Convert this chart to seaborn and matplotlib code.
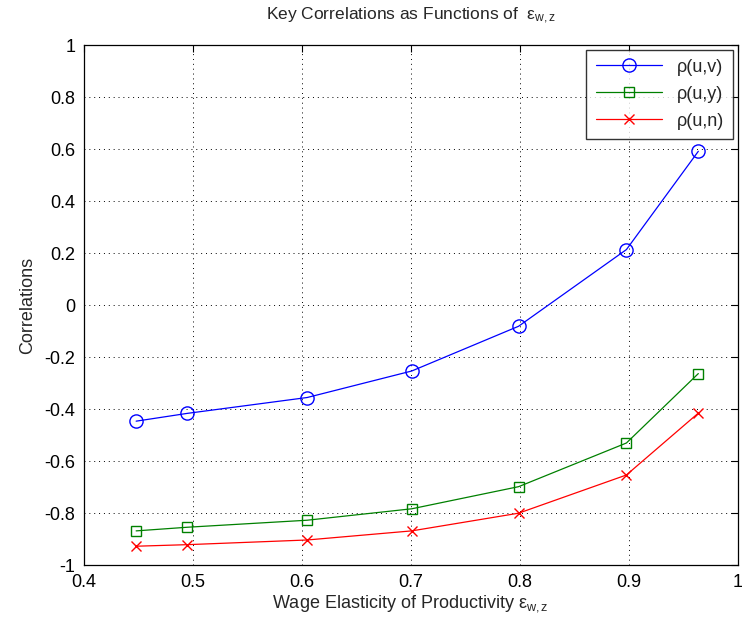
import numpy as np
import pandas as pd
import seaborn as sns
import matplotlib.pyplot as plt

# elasticidade salarial (eixo x) e correlacoes
elasticidade = [0.448, 0.495, 0.605, 0.701, 0.799, 0.898, 0.964]
rho_uv = [-0.446, -0.416, -0.355, -0.253, -0.081, 0.214, 0.592]
rho_uy = [-0.868, -0.854, -0.827, -0.783, -0.698, -0.530, -0.263]
rho_un = [-0.927, -0.921, -0.903, -0.868, -0.800, -0.653, -0.415]

series = ['ρ(u,v)', 'ρ(u,y)', 'ρ(u,n)']
cores = ['#0000ff', '#008000', '#ff0000']
marcadores = ['o', 's', 'x']
tamanhos = [9.5, 7.5, 7]

x_ticks = [0.4, 0.5, 0.6, 0.7, 0.8, 0.9, 1]
y_ticks = [-1, -0.8, -0.6, -0.4, -0.2, 0, 0.2, 0.4, 0.6, 0.8, 1]

df = pd.DataFrame({'x': elasticidade * 3,
                   'valor': rho_uv + rho_uy + rho_un,
                   'serie': np.repeat(series, len(elasticidade))})

sns.set_style('white')
plt.rcParams['font.family'] = ['Liberation Sans', 'DejaVu Sans']
plt.rcParams['mathtext.fontset'] = 'custom'
plt.rcParams['mathtext.rm'] = 'Liberation Sans'
plt.rcParams['mathtext.it'] = 'Liberation Sans'

fig = plt.figure(figsize=(7.42, 6.28), dpi=100)
ax = fig.add_axes([0.113, 0.100, 0.881, 0.828])

for nome, cor, m, ms in zip(series, cores, marcadores, tamanhos):
    sub = df[df['serie'] == nome]
    sns.lineplot(data=sub, x='x', y='valor', ax=ax, color=cor, marker=m,
                 markersize=ms, mfc='none', mec=cor, mew=1.0, lw=0.9,
                 label=nome)

ax.set_xlim(0.4, 1)
ax.set_ylim(-1, 1)
ax.set_xticks(x_ticks)
ax.set_xticklabels(['0.4', '0.5', '0.6', '0.7', '0.8', '0.9', '1'])
ax.set_yticks(y_ticks)
ax.set_yticklabels(['-1', '-0.8', '-0.6', '-0.4', '-0.2', '0', '0.2', '0.4', '0.6', '0.8', '1'])
ax.tick_params(direction='in', top=True, right=True, length=5, width=0.8,
               labelsize=13, colors='black', pad=6)
ax.grid(True, linestyle=(0, (1, 4)), color='black', linewidth=0.7)
for s in ax.spines.values():
    s.set_color('black')
    s.set_linewidth(0.9)

ax.set_title(r'Key Correlations as Functions of  $\varepsilon_{\rm w,z}$', fontsize=12.5, pad=18)
ax.set_xlabel(r'Wage Elasticity of Productivity $\varepsilon_{\rm w,z}$', fontsize=13, labelpad=2)
ax.set_ylabel('Correlations', fontsize=13, labelpad=6)

leg = ax.legend(loc='upper right', fontsize=13, frameon=True, fancybox=False,
                edgecolor='black', handlelength=3.7, borderaxespad=0.25,
                labelspacing=0.55, borderpad=0.5)
leg.get_frame().set_linewidth(1.0)

plt.savefig('out.png', dpi=100)
